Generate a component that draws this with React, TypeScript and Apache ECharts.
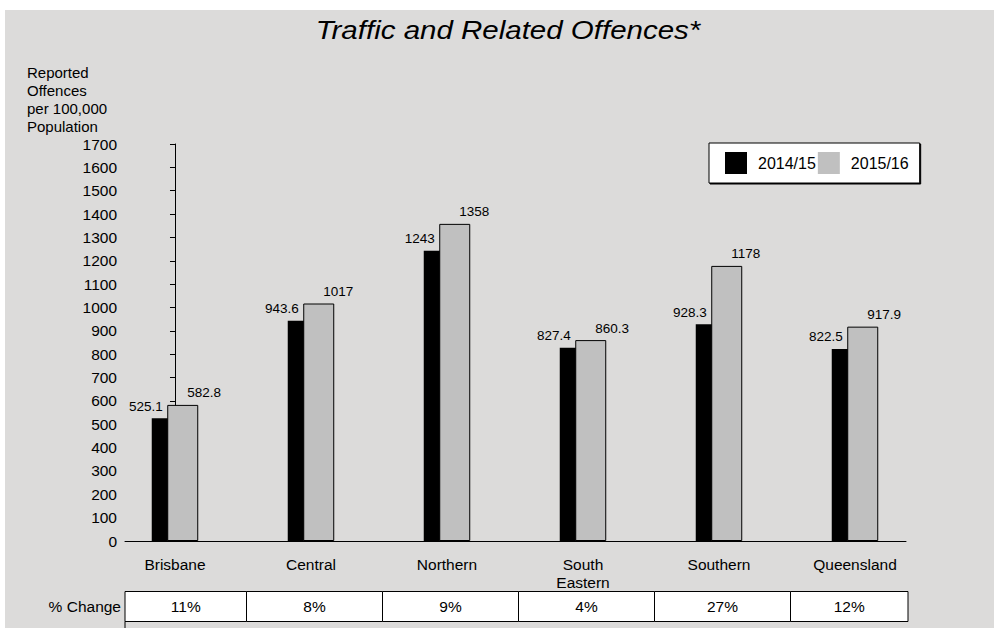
import React, { useEffect, useRef } from "react";
import * as echarts from "echarts";

const categories = ["Brisbane", "Central", "Northern", "South\nEastern", "Southern", "Queensland"];
const seriesNames = ["2014/15", "2015/16"];
const values2014 = [525.1, 943.6, 1243, 827.4, 928.3, 822.5];
const values2015 = [582.8, 1017, 1358, 860.3, 1178, 917.9];
const pctChange = ["11%", "8%", "9%", "4%", "27%", "12%"];
const yMin = 0;
const yMax = 1700;
const yInterval = 100;
const yAxisTitle = "Reported\nOffences\nper 100,000\nPopulation";
const chartTitle = "Traffic and Related Offences*";
const tableRowLabel = "% Change";

const FONT = "'Liberation Sans', Arial, sans-serif";

export default function App() {
  const ref = useRef<HTMLDivElement>(null);

  useEffect(() => {
    if (!ref.current) return;
    const chart = echarts.init(ref.current, undefined, { renderer: "svg" });

    const xMin = -0.3676;
    const xMax = 5.375;

    const option: any = {
      animation: false,
      backgroundColor: "#ffffff",
      textStyle: { fontFamily: FONT, color: "#000" },
      legend: {
        left: 709,
        top: 143,
        orient: "horizontal",
        padding: [9, 11, 9, 16],
        itemGap: 2,
        itemWidth: 22,
        itemHeight: 22,
        icon: "rect",
        backgroundColor: "#ffffff",
        borderColor: "#000",
        borderWidth: 1,
        shadowColor: "#000",
        shadowOffsetX: 1,
        shadowOffsetY: 1,
        shadowBlur: 0,
        itemStyle: { borderWidth: 0 },
        textStyle: { fontFamily: FONT, fontSize: 16, color: "#000", padding: [0, 0, 0, 6] },
        data: seriesNames,
      },
      grid: { left: 125, top: 144, width: 781, height: 397 },
      xAxis: {
        type: "value",
        min: xMin,
        max: xMax,
        splitLine: { show: false },
        axisTick: { show: false },
        axisLine: { show: true, onZero: false, lineStyle: { color: "#000", width: 1 } },
        axisLabel: {
          customValues: [0, 1, 2, 3, 4, 5],
          formatter: (v: number) => categories[Math.round(v)] ?? "",
          fontFamily: FONT,
          fontSize: 15.5,
          lineHeight: 18,
          color: "#000",
          margin: 14,
        },
      },
      yAxis: {
        type: "value",
        min: yMin,
        max: yMax,
        interval: yInterval,
        splitLine: { show: false },
        axisLine: { show: true, lineStyle: { color: "#000", width: 1 } },
        axisTick: { show: true, length: 5, lineStyle: { color: "#000" } },
        axisLabel: {
          fontFamily: FONT,
          fontSize: 15.5,
          color: "#000",
          margin: 8,
          formatter: (v: number) => String(v),
        },
      },
      series: [
        {
          name: seriesNames[0],
          type: "bar",
          barWidth: 31,
          barGap: "-50%",
          data: values2014.map((v, i) => [i, v]),
          itemStyle: { color: "#000000" },
          label: {
            show: true,
            position: [11, -12],
            align: "right",
            verticalAlign: "middle",
            fontFamily: FONT,
            fontSize: 13.5,
            color: "#000",
            formatter: (p: any) => String(p.value[1]),
          },
        },
        {
          name: seriesNames[1],
          type: "bar",
          barWidth: 31,
          barGap: "-50%",
          data: values2015.map((v, i) => [i, v]),
          itemStyle: { color: "#c0c0c0", borderColor: "#000", borderWidth: 1 },
          label: {
            show: true,
            position: [20, -12],
            align: "left",
            verticalAlign: "middle",
            fontFamily: FONT,
            fontSize: 13.5,
            color: "#000",
            formatter: (p: any) => String(p.value[1]),
          },
        },
      ],
    };
    chart.setOption(option);

    const px = (v: number) => chart.convertToPixel({ xAxisIndex: 0 }, v) as number;
    const left = px(xMin);
    const right = px(xMax) + 2;
    const bounds: number[] = [left];
    for (let i = 0; i < categories.length - 1; i++) bounds.push(Math.round(px(i + 0.5)) + 3.5);
    bounds.push(right);
    const rowTop = 591.5;
    const rowH = 30;

    const elements: any[] = [
      {
        type: "rect",
        z: -100,
        silent: true,
        shape: { x: 5, y: 10, width: 989, height: 618 },
        style: { fill: "#dcdbda" },
      },
      {
        type: "text",
        x: 508,
        y: 30,
        scaleX: 1.18,
        style: {
          text: chartTitle,
          font: `italic 25px ${FONT}`,
          fill: "#000",
          align: "center",
          verticalAlign: "middle",
        },
      },
      {
        type: "text",
        left: 27,
        top: 63,
        style: { text: yAxisTitle, font: `15px ${FONT}`, fill: "#000", lineHeight: 18 },
      },
      {
        type: "line",
        shape: { x1: left, y1: rowTop + rowH, x2: left, y2: 628 },
        style: { stroke: "#000", lineWidth: 1 },
      },
      {
        type: "text",
        x: left - 4,
        y: rowTop + rowH / 2,
        style: { text: tableRowLabel, font: `15.5px ${FONT}`, fill: "#000", align: "right", verticalAlign: "middle" },
      },
    ];
    pctChange.forEach((t, i) => {
      const x0 = bounds[i];
      const x1 = bounds[i + 1];
      elements.push({
        type: "rect",
        shape: { x: x0, y: rowTop, width: x1 - x0, height: rowH },
        style: { fill: "#ffffff", stroke: "#000", lineWidth: 1 },
      });
      elements.push({
        type: "text",
        x: (x0 + x1) / 2,
        y: rowTop + rowH / 2,
        style: { text: t, font: `15.5px ${FONT}`, fill: "#000", align: "center", verticalAlign: "middle" },
      });
    });
    chart.setOption({ graphic: { elements } });

    return () => chart.dispose();
  }, []);

  return (
    <div
      ref={ref}
      style={{ position: "fixed", left: 0, top: 0, width: 994, height: 628 }}
    />
  );
}
